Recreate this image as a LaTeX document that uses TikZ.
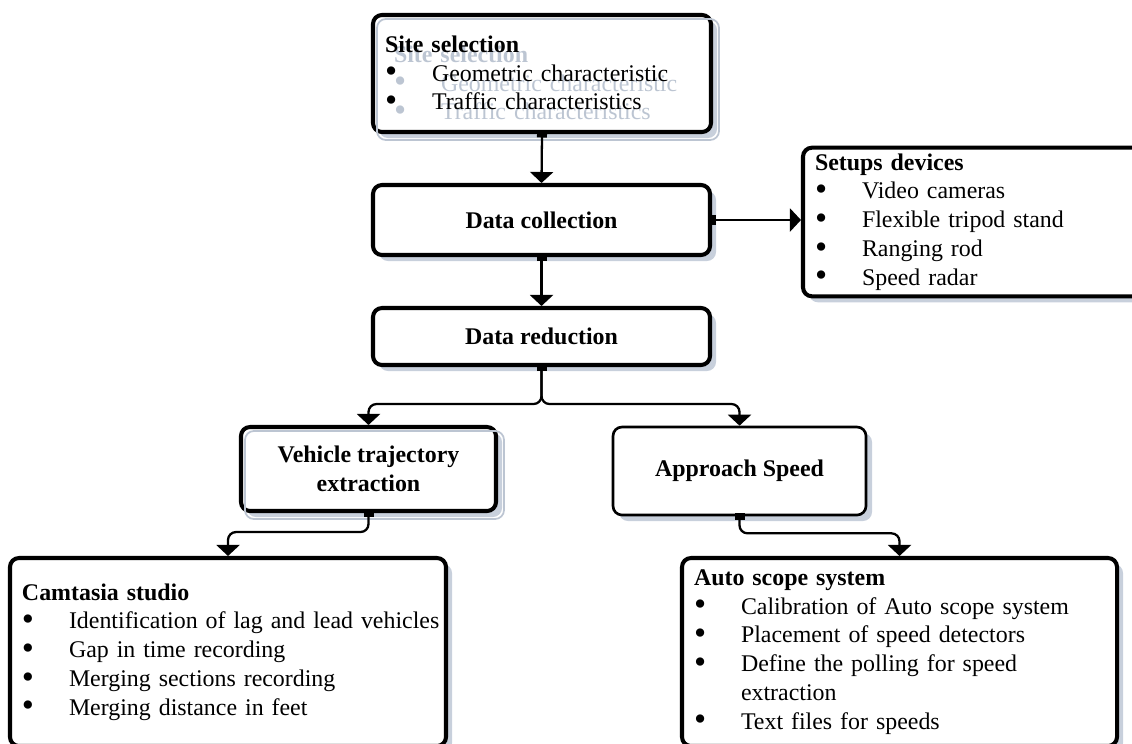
\documentclass[tikz,border=0pt]{standalone}
\usepackage{fontspec}
\setmainfont{Liberation Serif}
\usetikzlibrary{arrows.meta,shadows,positioning,calc}
\definecolor{shadowBlue}{RGB}{200,208,220}
\definecolor{ghostGray}{RGB}{188,197,210}
\def\fs{\fontsize{13.6}{16.4}\selectfont}
\def\bw{0.94cm}
\newcommand{\dotb}{\raisebox{-0.9pt}{\scalebox{1.45}{\textbullet}}}
\newcommand{\itm}[1]{\makebox[\bw][l]{\dotb}\mbox{#1}}
\newcommand{\sitetxt}{\textbf{Site selection}\\ \itm{Geometric characteristic}\\ \itm{Traffic characteristics}}

\begin{document}
\begin{tikzpicture}
    [
        font=\fs,
        box/.style={draw, rounded corners=0.18cm, fill=white, line width=2.3pt,
            drop shadow={shadow xshift=0.12cm, shadow yshift=-0.12cm, fill=shadowBlue, opacity=1}},
        thinbox/.style={box, line width=1.5pt},
        listbox/.style={box, align=left, inner xsep=0.24cm},
        title/.style={font=\fs\bfseries, align=center},
        ghost/.style={text=ghostGray, align=left},
        ghostline/.style={ghostGray, line width=1pt, rounded corners=0.18cm},
        flow/.style={line width=1.3pt, rounded corners=0.16cm, shorten <=-2pt,
            {Square[length=0.14cm,width=0.2cm]}-{Triangle[width=0.46cm,length=0.22cm]}}
    ]
%    \draw[style=help lines,step=1] (0,-15) grid (23,0);
    % top part
    \node[listbox, minimum height=2.34cm, text width=6.28cm] (site) at (10.84,-1.47) {};
    \draw[ghostline] ($(site.north west)+(0.12,-0.12)$) rectangle ($(site.south east)+(0.12,-0.12)$);
    \node[ghost, text width=6.28cm] (site-ghost) at ($(site)+(0.18,-0.2)$) {\sitetxt};
    \node[align=left, text width=6.28cm] (site-txt) at (site) {\sitetxt};

    \node[box, title, minimum width=6.74cm, minimum height=1.40cm] (dc) at (10.83,-4.40) {Data collection};
    \node[box, title, minimum width=6.74cm, minimum height=1.14cm] (dr) at (10.83,-6.73) {Data reduction};
    \node[listbox, minimum height=2.92cm, text width=6.6cm] (dev) at (19.60,-4.44)
        {\textbf{Setups devices}\\ \itm{Video cameras}\\ \itm{Flexible tripod stand}\\
         \itm{Ranging rod}\\ \itm{Speed radar}};

    % middle part
    \node[box, title, minimum width=5.10cm, minimum height=1.68cm] (vte) at (7.37,-9.38) {Vehicle trajectory\\extraction};
    \draw[ghostline] ($(vte.north west)+(0.12,-0.12)$) rectangle ($(vte.south east)+(0.12,-0.12)$);
    \node[thinbox, title, minimum width=5.06cm, minimum height=1.76cm] (aps) at (14.79,-9.42) {Approach Speed};

    % bottom part
    \node[listbox, minimum height=3.76cm, text width=8.24cm] (cam) at (4.56,-13.04)
        {\textbf{Camtasia studio}\\ \itm{Identification of lag and lead vehicles}\\
         \itm{Gap in time recording}\\ \itm{Merging sections recording}\\
         \itm{Merging distance in feet}};
    \node[listbox, minimum height=3.76cm, text width=8.22cm] (asc) at (17.99,-13.04)
        {\textbf{Auto scope system}\\ \itm{Calibration of Auto scope system}\\
         \itm{Placement of speed detectors}\\ \itm{Define the polling for speed}\\
         \hspace*{\bw}extraction\\ \itm{Text files for speeds}};

    % connectors
    \draw[flow] (site.south) -- (dc.north);
    \draw[flow] (dc.east) -- (dc.east -| dev.west);
    \draw[flow] (dc.south) -- (dr.north);
    \draw[flow] (dr.south) -- ++(0,-0.74) -| (vte.north);
    \draw[flow] (dr.south) -- ++(0,-0.74) -| (aps.north);
    \draw[flow] (vte.south) -- ++(0,-0.38) -| (cam.north);
    \draw[flow] (aps.south) -- ++(0,-0.34) -| (asc.north);

    \pgfresetboundingbox
    \useasboundingbox (0,0) rectangle (22.64,-14.86);
\end{tikzpicture}
\end{document}
